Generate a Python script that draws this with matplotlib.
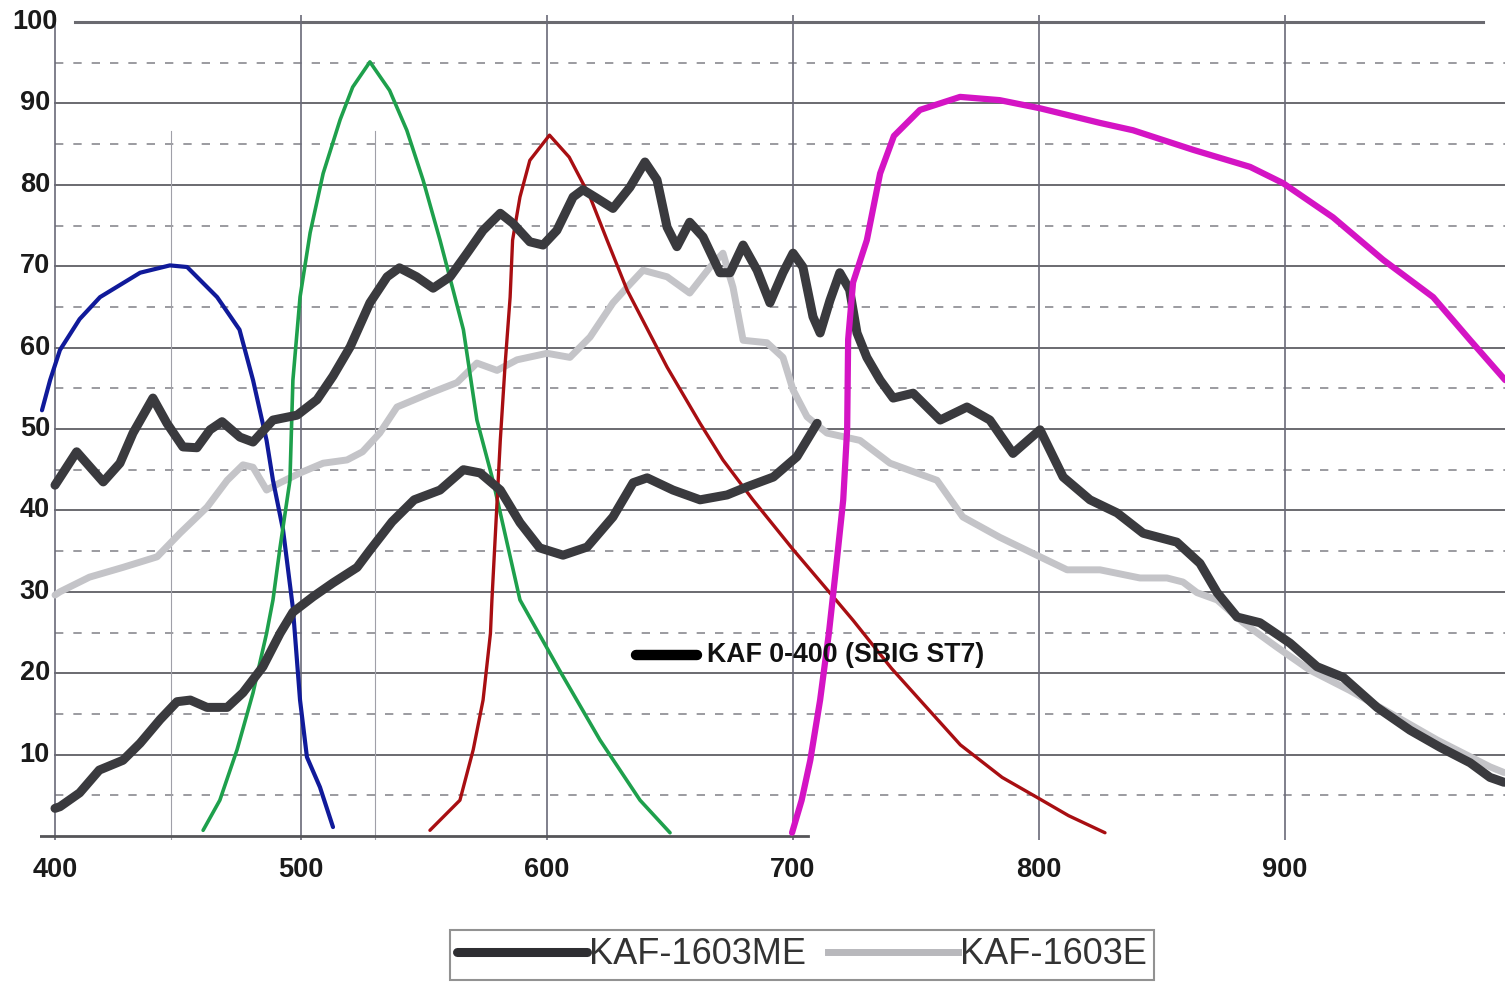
import matplotlib
matplotlib.use("Agg")
import matplotlib.pyplot as plt
from matplotlib.lines import Line2D

plt.rcParams['font.family'] = ['Liberation Sans', 'DejaVu Sans']

# ---------------- data (wavelength nm, response %) ----------------
blue_x = [394.7, 398, 402, 410, 418.3, 434.6, 446.7, 453.7, 465.9, 475, 480.5, 486, 488.6,
          492.7, 496.7, 499.6, 502.4, 507.7, 513]
blue_y = [52.3, 56, 59.7, 63.5, 66.2, 69.2, 70.1, 69.9, 66.2, 62.2, 56, 48.6, 43.7,
          37.6, 28, 16.7, 9.7, 6, 1.1]

green_x = [460.2, 467, 474, 480.5, 486, 488.6, 491.5, 495.5, 496.7, 499.6, 503.7, 509, 515.9,
           521, 528, 536, 543, 549.6, 556.5, 561.8, 566, 571.5, 578, 589, 605, 621.5,
           637.8, 650]
green_y = [0.7, 4.4, 10.6, 17.6, 24.9, 29, 35.5, 43.7, 56, 66.2, 74.1, 81.4, 88,
           92, 95.1, 91.6, 86.7, 80.6, 73.2, 67.1, 62.2, 51.1, 43.7, 29, 20.4, 11.8,
           4.4, 0.4]

red_x = [552.4, 564.6, 570, 574, 577, 577.6, 581, 583, 585, 586, 589, 593, 601, 609, 617.5,
         624.4, 632.5, 648.8, 662.2, 671.5, 683.7, 700, 716.3, 724.4, 740, 751.6, 768, 785,
         800, 812, 826.8]
red_y = [0.7, 4.4, 10.6, 16.7, 24.9, 29, 48.6, 58.1, 66.2, 73.2, 78.5, 83, 86.1, 83.4, 78.5,
         73.2, 67.1, 57.6, 50.7, 46.2, 41.3, 35.2, 29.4, 26.5, 20.6, 16.7, 11.2, 7.2,
         4.6, 2.5, 0.4]

magenta_x = [699.6, 703.5, 707, 711, 714.6, 717.5, 720.4, 722, 722.4, 724.4, 730, 735.4, 741,
             751.6, 767.9, 784, 800.4, 824.8, 838.2, 862.6, 885.8, 899.2, 919.5, 939.8,
             960.2, 975, 989.5]
magenta_y = [0.4, 4.4, 9.3, 16.7, 25, 33, 41.3, 50, 61, 68, 73.2, 81.4, 86,
             89.2, 90.8, 90.4, 89.4, 87.6, 86.7, 84.3, 82.2, 80.2, 76, 70.8,
             66.2, 61, 56]

me_x = [400, 408.8, 419.6, 426.4, 431.7, 439.8, 445.5, 452, 457.7, 463, 467.9, 475.2, 480.5,
        488.6, 498.4, 506.5, 513, 520, 528, 535, 540, 547, 553.7, 560.6, 567.5, 574, 581,
        586, 593, 598.4, 604, 610.6, 614.6, 620, 626.8, 633.7, 639.8, 644.7, 648.8, 652.8,
        658, 663.4, 670.3, 674.4, 679.7, 685.4, 690.6, 695.9, 700, 704, 708.1, 711, 715,
        719, 723, 726, 730, 735.4, 740.7, 748.8, 759.8, 770.7, 780, 789.4, 800.4, 809.8,
        820.7, 831.7, 842.3, 856, 865.4, 872.4, 880.5, 889.8, 902, 913, 923.6, 937.4,
        950.8, 963, 975.2, 983.3, 989]
me_y = [43.1, 47.2, 43.5, 45.8, 49.5, 53.8, 50.7, 47.8, 47.7, 49.9, 50.9, 49, 48.4,
        51.1, 51.7, 53.6, 56.5, 60.1, 65.5, 68.7, 69.8, 68.7, 67.3, 68.7, 71.6, 74.4, 76.5,
        75.3, 73, 72.6, 74.4, 78.5, 79.4, 78.4, 77.1, 79.7, 82.8, 80.6, 74.8, 72.4,
        75.4, 73.6, 69.2, 69.2, 72.6, 69.5, 65.5, 69.2, 71.6, 69.9, 63.8, 61.8, 65.8,
        69.2, 67.1, 61.8, 58.8, 56, 53.8, 54.4, 51.1, 52.7, 51.1, 47, 49.9, 44.1,
        41.3, 39.7, 37.2, 36.1, 33.5, 29.9, 26.9, 26.2, 23.7, 20.8, 19.5, 15.8,
        13, 10.9, 9, 7.2, 6.6]

e_x = [400, 402, 414, 427.6, 441.5, 450.8, 461.8, 470, 476.4, 480.5, 486, 491.5, 499.6, 509,
       518.7, 525, 532, 539, 552.4, 563.4, 571.5, 579.7, 587.8, 600, 609.3, 617.5, 626.8,
       632.5, 639, 648.8, 658, 666.3, 671.5, 675.6, 679.7, 689.4, 695.9, 700, 705.7, 713.8,
       727.2, 739.4, 758.5, 769, 784, 800.4, 811.4, 824.8, 841, 852, 858.5, 864.2, 872.4,
       883, 896.7, 910, 926.2, 942.7, 961.8, 983.3, 989]
e_y = [29.6, 30, 31.8, 33, 34.3, 37.2, 40.4, 43.7, 45.6, 45.3, 42.5, 43.4, 44.6, 45.8,
       46.2, 47.2, 49.5, 52.7, 54.4, 55.7, 58.1, 57.2, 58.5, 59.3, 58.8, 61.3, 65.5,
       67.4, 69.5, 68.7, 66.7, 69.9, 71.6, 67.4, 60.9, 60.6, 58.8, 54.8, 51.5, 49.5,
       48.6, 45.8, 43.7, 39.2, 36.7, 34.3, 32.7, 32.7, 31.7, 31.7, 31.2, 29.9, 29,
       26.2, 23.2, 20.4, 17.9, 15.1, 11.8, 8.5, 7.8]

st7_x = [400, 402, 410, 418, 427.6, 434.6, 442.7, 449.6, 455, 461.8, 470, 476.4, 484.5,
         491.5, 496.7, 504.9, 513, 522.8, 528, 537, 546, 556.5, 566, 572.8, 581, 589, 597,
         606.5, 616.3, 626.8, 635, 640.7, 651.2, 662.2, 673.2, 681.3, 692, 701.6, 709.8]
st7_y = [3.4, 3.6, 5.3, 8.1, 9.3, 11.4, 14.3, 16.5, 16.7, 15.8, 15.8, 17.6, 20.8,
         24.9, 27.5, 29.4, 31.1, 33, 35.1, 38.6, 41.3, 42.5, 45, 44.6, 42.5, 38.5, 35.4,
         34.5, 35.5, 39.2, 43.4, 44, 42.5, 41.3, 41.9, 42.9, 44.1, 46.6, 50.7]

x_ticks = [400, 500, 600, 700, 800, 900]
y_ticks = [10, 20, 30, 40, 50, 60, 70, 80, 90, 100]
y_half = [5, 15, 25, 35, 45, 55, 65, 75, 85, 95]
legend_labels = ['KAF-1603ME', 'KAF-1603E']
annot_label = 'KAF 0-400 (SBIG ST7)'

# ---------------- figure ----------------
fig = plt.figure(figsize=(15.05, 9.84), dpi=100)
ax = fig.add_axes([40 / 1505, 1 - 840 / 984, 1465 / 1505, 825 / 984])
X0, X1 = 393.9, 989.4
ax.set_xlim(X0, X1)
ax.set_ylim(-0.49, 100.86)
for s in ax.spines.values():
    s.set_visible(False)
ax.set_xticks([])
ax.set_yticks([])

# grid
for v in y_ticks[:-1]:
    ax.axhline(v, xmin=(400 - X0) / (X1 - X0), color='#6a6a70', lw=1.4, zorder=1)
ax.axhline(100, xmin=(408 - X0) / (X1 - X0), xmax=0.985, color='#6a6a70', lw=2.2, zorder=1)
for v in y_half:
    ax.axhline(v, xmin=(400 - X0) / (X1 - X0), color='#8a8a90', lw=1.2,
               ls=(0, (5, 6)), zorder=1)
for v in x_ticks:
    ax.axvline(v, color='#6a6a78', lw=1.2, zorder=1)
for v in [447, 530]:
    ax.axvline(v, ymax=0.86, color='#a0a0a8', lw=0.8, zorder=1)
ax.axhline(0, xmax=(706 - X0) / (X1 - X0), color='#555558', lw=2.0, zorder=1)

# curves
kw = dict(solid_joinstyle='round', solid_capstyle='round')
ax.plot(e_x, e_y, color='#c4c4c8', lw=5.0, zorder=3, **kw)
ax.plot(blue_x, blue_y, color='#101a9a', lw=3.0, zorder=4, **kw)
ax.plot(green_x, green_y, color='#1ea04c', lw=2.6, zorder=4, **kw)
ax.plot(red_x, red_y, color='#a80e12', lw=2.4, zorder=4, **kw)
ax.plot(st7_x, st7_y, color='#3a3a3e', lw=6.5, zorder=5, **kw)
ax.plot(me_x, me_y, color='#3a3a3e', lw=6.5, zorder=5, **kw)
ax.plot(magenta_x, magenta_y, color='#d414c4', lw=4.5, zorder=6, **kw)

# tick labels
for v in x_ticks:
    ax.text(v, -4.2, str(v), ha='center', va='center', fontsize=19.5, fontweight='bold',
            color='#1a1a1a')
for v in y_ticks:
    ax.text(-0.0035, v, str(v), transform=ax.get_yaxis_transform(), ha='center',
            va='center', fontsize=19.5, fontweight='bold', color='#1a1a1a')

# annotation
ax.plot([636, 661], [22.2, 22.2], color='black', lw=7.5, solid_capstyle='round', zorder=7)
ax.text(665, 22.2, annot_label, ha='left', va='center', fontsize=19.3, fontweight='bold',
        color='#111111', zorder=7)

# legend
handles = [Line2D([], [], color='#2e2e32', lw=6.5, solid_capstyle='round'),
           Line2D([], [], color='#b8b8bc', lw=5)]
leg = fig.legend(handles, legend_labels, loc='center', bbox_to_anchor=(802 / 1505, 1 - 955 / 984),
                 ncol=2, fontsize=26, frameon=True, fancybox=False, edgecolor='#777777',
                 handlelength=3.6, handletextpad=0.05, columnspacing=0.6, borderpad=0.2,
                 borderaxespad=0)
for t in leg.get_texts():
    t.set_color('#333333')
leg.get_frame().set_linewidth(1.5)

fig.savefig('out.png', dpi=100, facecolor='white')
